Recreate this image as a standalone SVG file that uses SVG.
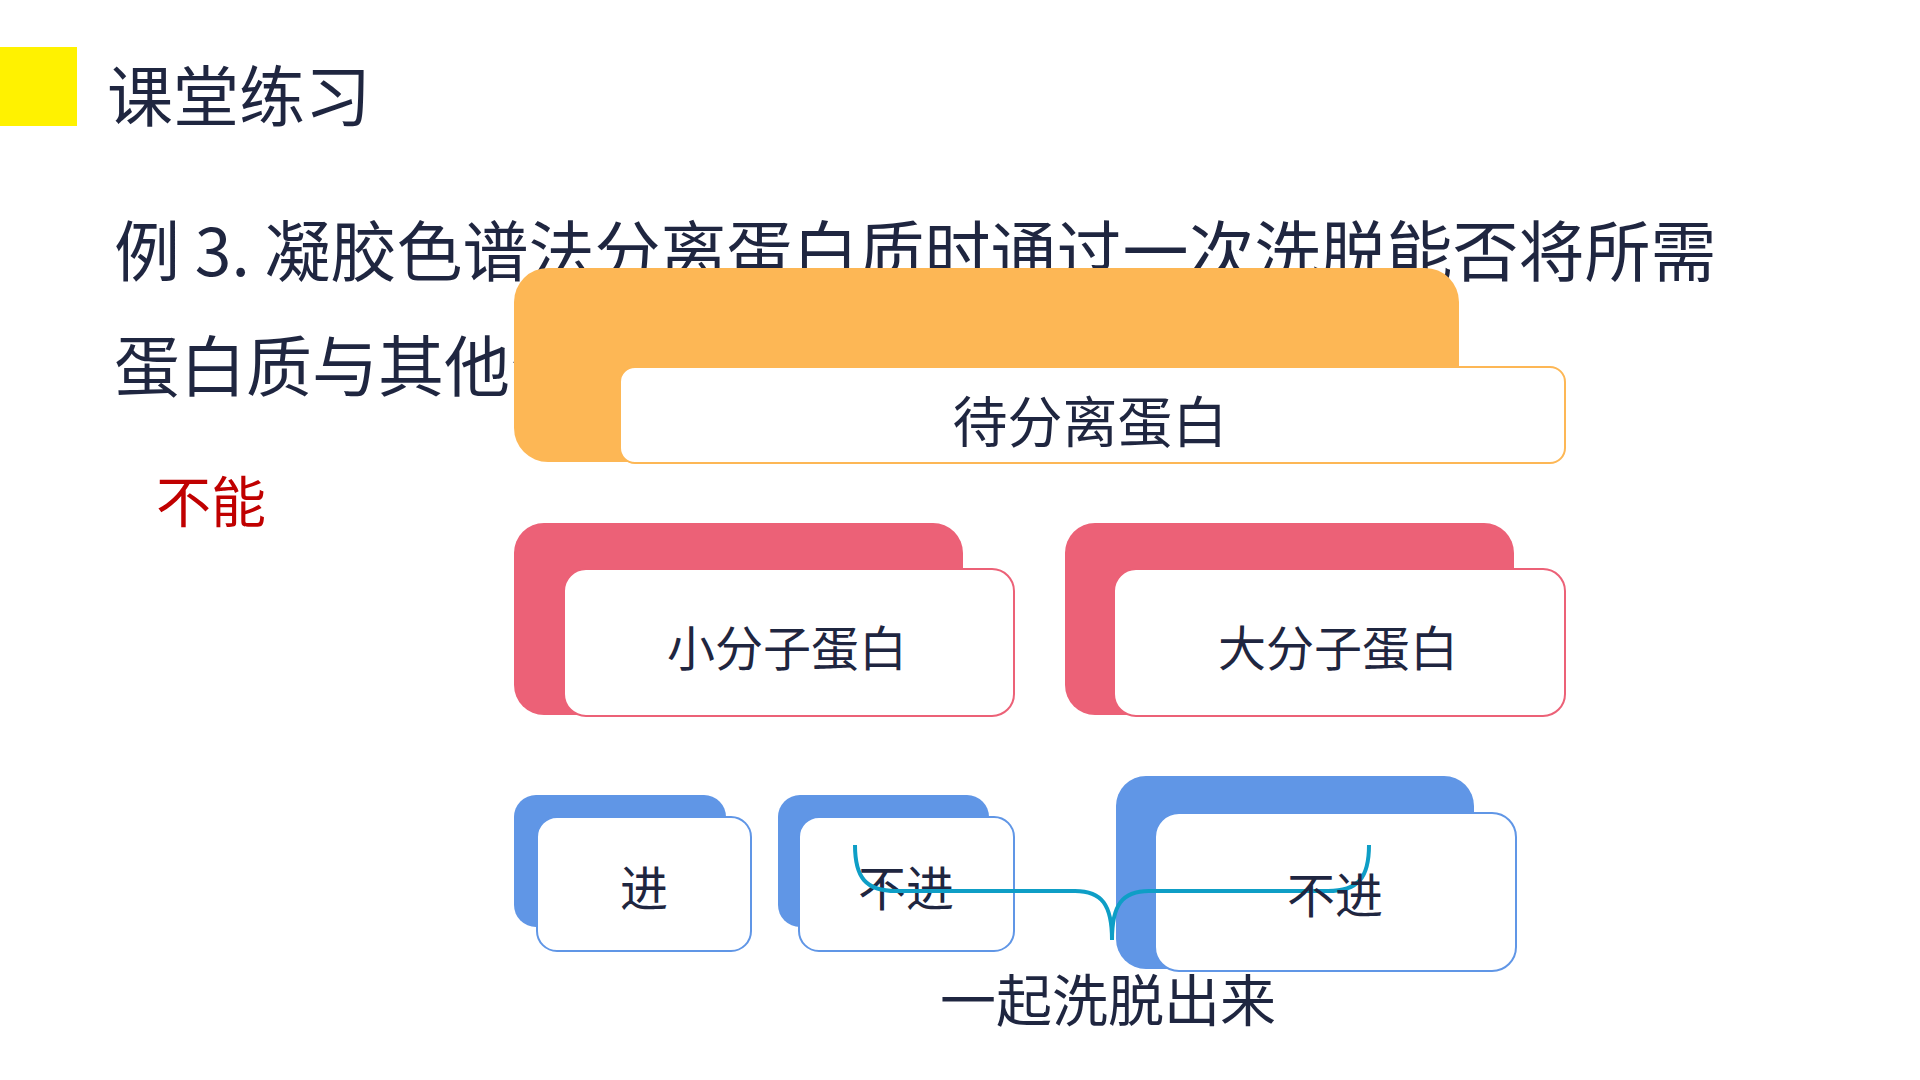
<svg xmlns="http://www.w3.org/2000/svg" width="1920" height="1080" viewBox="0 0 1920 1080">
<style>
text{font-family:"Noto Sans CJK SC","Noto Sans",sans-serif;fill:#1F2640}
.c{text-anchor:middle;dominant-baseline:central}
.ob{fill:#FDB755}
.of{fill:#fff;stroke:#FDB755;stroke-width:2}
.pb{fill:#EC6177}
.pf{fill:#fff;stroke:#EC6177;stroke-width:2}
.bb{fill:#6096E6}
.bf{fill:#fff;stroke:#6096E6;stroke-width:2}
</style>
<rect width="1920" height="1080" fill="#fff"/>
<g id="header">
<rect x="0" y="47" width="77" height="79" fill="#FFF200"/>
<text x="107" y="121" font-size="66">课堂练习</text>
</g>
<g id="question">
<text x="114" y="276" font-size="66">例 3. 凝胶色谱法分离蛋白质时通过一次洗脱能否将所需</text>
<text x="114" y="391" font-size="66">蛋白质与其他杂</text>
<text x="156" y="522" font-size="55" style="fill:#C00000">不能</text>
</g>
<g id="node-mix">
<rect class="ob" x="514" y="268" width="945" height="194" rx="34"/>
<rect class="of" x="620" y="367" width="945" height="96" rx="15"/>
<text class="c" x="1090" y="418" font-size="55">待分离蛋白</text>
</g>
<g id="node-small">
<rect class="pb" x="514" y="523" width="449" height="192" rx="30"/>
<rect class="pf" x="564" y="569" width="450" height="147" rx="22"/>
<text class="c" x="787" y="645" font-size="48">小分子蛋白</text>
</g>
<g id="node-large">
<rect class="pb" x="1065" y="523" width="449" height="192" rx="30"/>
<rect class="pf" x="1114" y="569" width="451" height="147" rx="22"/>
<text class="c" x="1338" y="645" font-size="48">大分子蛋白</text>
</g>
<g id="node-in">
<rect class="bb" x="514" y="795" width="212" height="132" rx="22"/>
<rect class="bf" x="537" y="817" width="214" height="134" rx="20"/>
<text class="c" x="644" y="885" font-size="48">进</text>
</g>
<g id="node-notin1">
<rect class="bb" x="778" y="795" width="211" height="132" rx="22"/>
<rect class="bf" x="799" y="817" width="215" height="134" rx="20"/>
<text class="c" x="906" y="885" font-size="48">不进</text>
</g>
<g id="node-notin2">
<rect class="bb" x="1116" y="776" width="358" height="193" rx="30"/>
<rect class="bf" x="1155" y="813" width="361" height="158" rx="24"/>
</g>
<g id="connectors">
<path d="M855,845 C855,878 866,891 896,891 L1075,891 C1102,891 1112,905 1112,940 C1112,905 1122,891 1149,891 L1328,891 C1358,891 1369,878 1369,845" fill="none" stroke="#0E9EC6" stroke-width="4"/>
</g>
<g id="labels">
<text class="c" x="1335" y="892" font-size="48">不进</text>
<text class="c" x="1108" y="996" font-size="56">一起洗脱出来</text>
</g>
</svg>
